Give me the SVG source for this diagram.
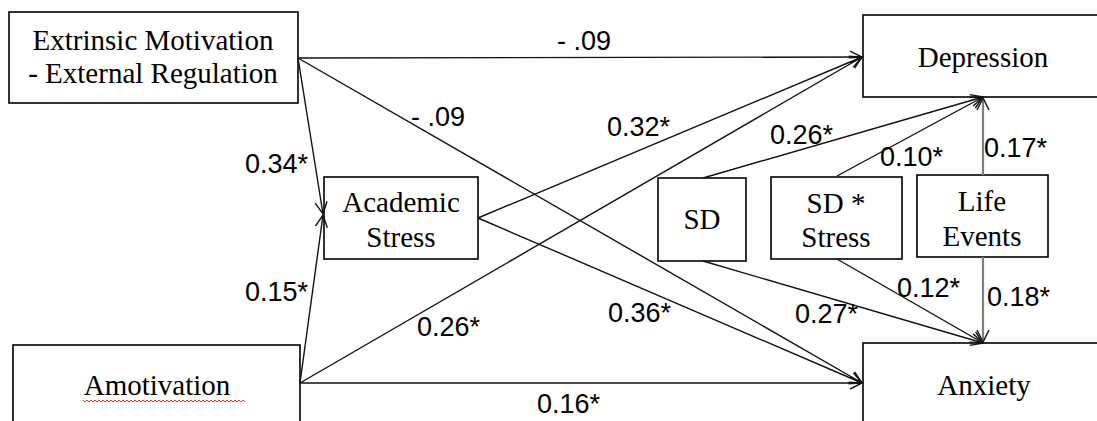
<svg xmlns="http://www.w3.org/2000/svg" width="1097" height="421" viewBox="0 0 1097 421">
<style>
.box{fill:#fff;stroke:#000;stroke-width:1.6}
.nt{font-family:"Liberation Serif","Times New Roman",serif;font-size:29px;fill:#000;text-anchor:middle}
.lb{font-family:"Liberation Sans",Arial,sans-serif;font-size:27px;fill:#000}
.ln{stroke:#111;stroke-width:1.4;fill:none}
.gl{stroke:#7f7f7f;stroke-width:2.2;fill:none}
</style>
<defs>
<marker id="ah" markerUnits="userSpaceOnUse" markerWidth="16" markerHeight="16" refX="13" refY="7" orient="auto">
<path d="M1,1 L13,7 L1,13" fill="none" stroke="#111" stroke-width="1.4"/>
</marker>
<marker id="ahg" markerUnits="userSpaceOnUse" markerWidth="16" markerHeight="16" refX="13" refY="7" orient="auto">
<path d="M1,1 L13,7 L1,13" fill="none" stroke="#222" stroke-width="1.6"/>
</marker>
</defs>
<rect width="1097" height="421" fill="#fff"/>
<g id="extrinsic">
<rect class="box" x="9" y="12" width="289" height="91"/>
<text class="nt" x="153" y="50">Extrinsic Motivation</text>
<text class="nt" x="153" y="83">- External Regulation</text>
</g>
<g id="amotivation">
<rect class="box" x="13" y="345" width="287" height="100"/>
<text class="nt" x="157" y="395">Amotivation</text>
<path d="M83,400 l2,2 l2,-2 l2,2 l2,-2 l2,2 l2,-2 l2,2 l2,-2 l2,2 l2,-2 l2,2 l2,-2 l2,2 l2,-2 l2,2 l2,-2 l2,2 l2,-2 l2,2 l2,-2 l2,2 l2,-2 l2,2 l2,-2 l2,2 l2,-2 l2,2 l2,-2 l2,2 l2,-2 l2,2 l2,-2 l2,2 l2,-2 l2,2 l2,-2 l2,2 l2,-2 l2,2 l2,-2 l2,2 l2,-2 l2,2 l2,-2 l2,2 l2,-2 l2,2 l2,-2 l2,2 l2,-2 l2,2 l2,-2 l2,2 l2,-2 l2,2 l2,-2 l2,2 l2,-2 l2,2 l2,-2 l2,2 l2,-2 l2,2 l2,-2 l2,2 l2,-2 l2,2 l2,-2 l2,2 l2,-2 l2,2 l2,-2 l2,2 l2,-2 l2,2 l2,-2 l2,2 l2,-2 l2,2 l2,-2 l2,2" fill="none" stroke="#e33" stroke-width="1"/>
</g>
<g id="academic">
<rect class="box" x="324" y="177" width="154" height="82"/>
<text class="nt" x="401" y="212">Academic</text>
<text class="nt" x="401" y="247">Stress</text>
</g>
<g id="sd">
<rect class="box" x="658" y="178" width="88" height="83"/>
<text class="nt" x="702" y="229">SD</text>
</g>
<g id="sdstress">
<rect class="box" x="771" y="177" width="131" height="82"/>
<text class="nt" x="836" y="213">SD *</text>
<text class="nt" x="836" y="247">Stress</text>
</g>
<g id="life">
<rect class="box" x="917" y="175" width="131" height="82"/>
<text class="nt" x="982" y="211">Life</text>
<text class="nt" x="982" y="246">Events</text>
</g>
<g id="depression">
<rect class="box" x="863" y="15" width="250" height="82"/>
<text class="nt" x="983" y="67">Depression</text>
</g>
<g id="anxiety">
<rect class="box" x="863" y="343" width="250" height="100"/>
<text class="nt" x="984" y="395">Anxiety</text>
</g>
<g id="connectors">
<line class="ln" x1="298" y1="58" x2="862" y2="57" marker-end="url(#ah)"/>
<line class="ln" x1="298" y1="58" x2="862" y2="383" marker-end="url(#ah)"/>
<line class="ln" x1="298" y1="58" x2="323" y2="214" marker-end="url(#ah)"/>
<line class="ln" x1="300" y1="383" x2="862" y2="383" marker-end="url(#ah)"/>
<line class="ln" x1="300" y1="383" x2="323" y2="215" marker-end="url(#ah)"/>
<line class="ln" x1="300" y1="383" x2="862" y2="57" marker-end="url(#ah)"/>
<line class="ln" x1="478" y1="218" x2="862" y2="57" marker-end="url(#ah)"/>
<line class="ln" x1="478" y1="218" x2="862" y2="383" marker-end="url(#ah)"/>
<line class="ln" x1="703" y1="178" x2="983" y2="97" marker-end="url(#ah)"/>
<line class="ln" x1="837" y1="176" x2="983" y2="97" marker-end="url(#ah)"/>
<line class="ln" x1="703" y1="261" x2="983" y2="343" marker-end="url(#ah)"/>
<line class="ln" x1="837" y1="259" x2="983" y2="343" marker-end="url(#ah)"/>
<line class="gl" x1="983" y1="175" x2="983" y2="98" marker-end="url(#ahg)"/>
<line class="gl" x1="983" y1="257" x2="983" y2="342" marker-end="url(#ahg)"/>
</g>
<g id="labels">
<text class="lb" x="557" y="50">- .09</text>
<text class="lb" x="411" y="126">- .09</text>
<text class="lb" x="607" y="136">0.32*</text>
<text class="lb" x="770" y="144">0.26*</text>
<text class="lb" x="880" y="166">0.10*</text>
<text class="lb" x="984" y="157">0.17*</text>
<text class="lb" x="245" y="173">0.34*</text>
<text class="lb" x="245" y="301">0.15*</text>
<text class="lb" x="417" y="336">0.26*</text>
<text class="lb" x="608" y="322">0.36*</text>
<text class="lb" x="795" y="323">0.27*</text>
<text class="lb" x="897" y="297">0.12*</text>
<text class="lb" x="987" y="306">0.18*</text>
<text class="lb" x="537" y="413">0.16*</text>
</g>
</svg>
